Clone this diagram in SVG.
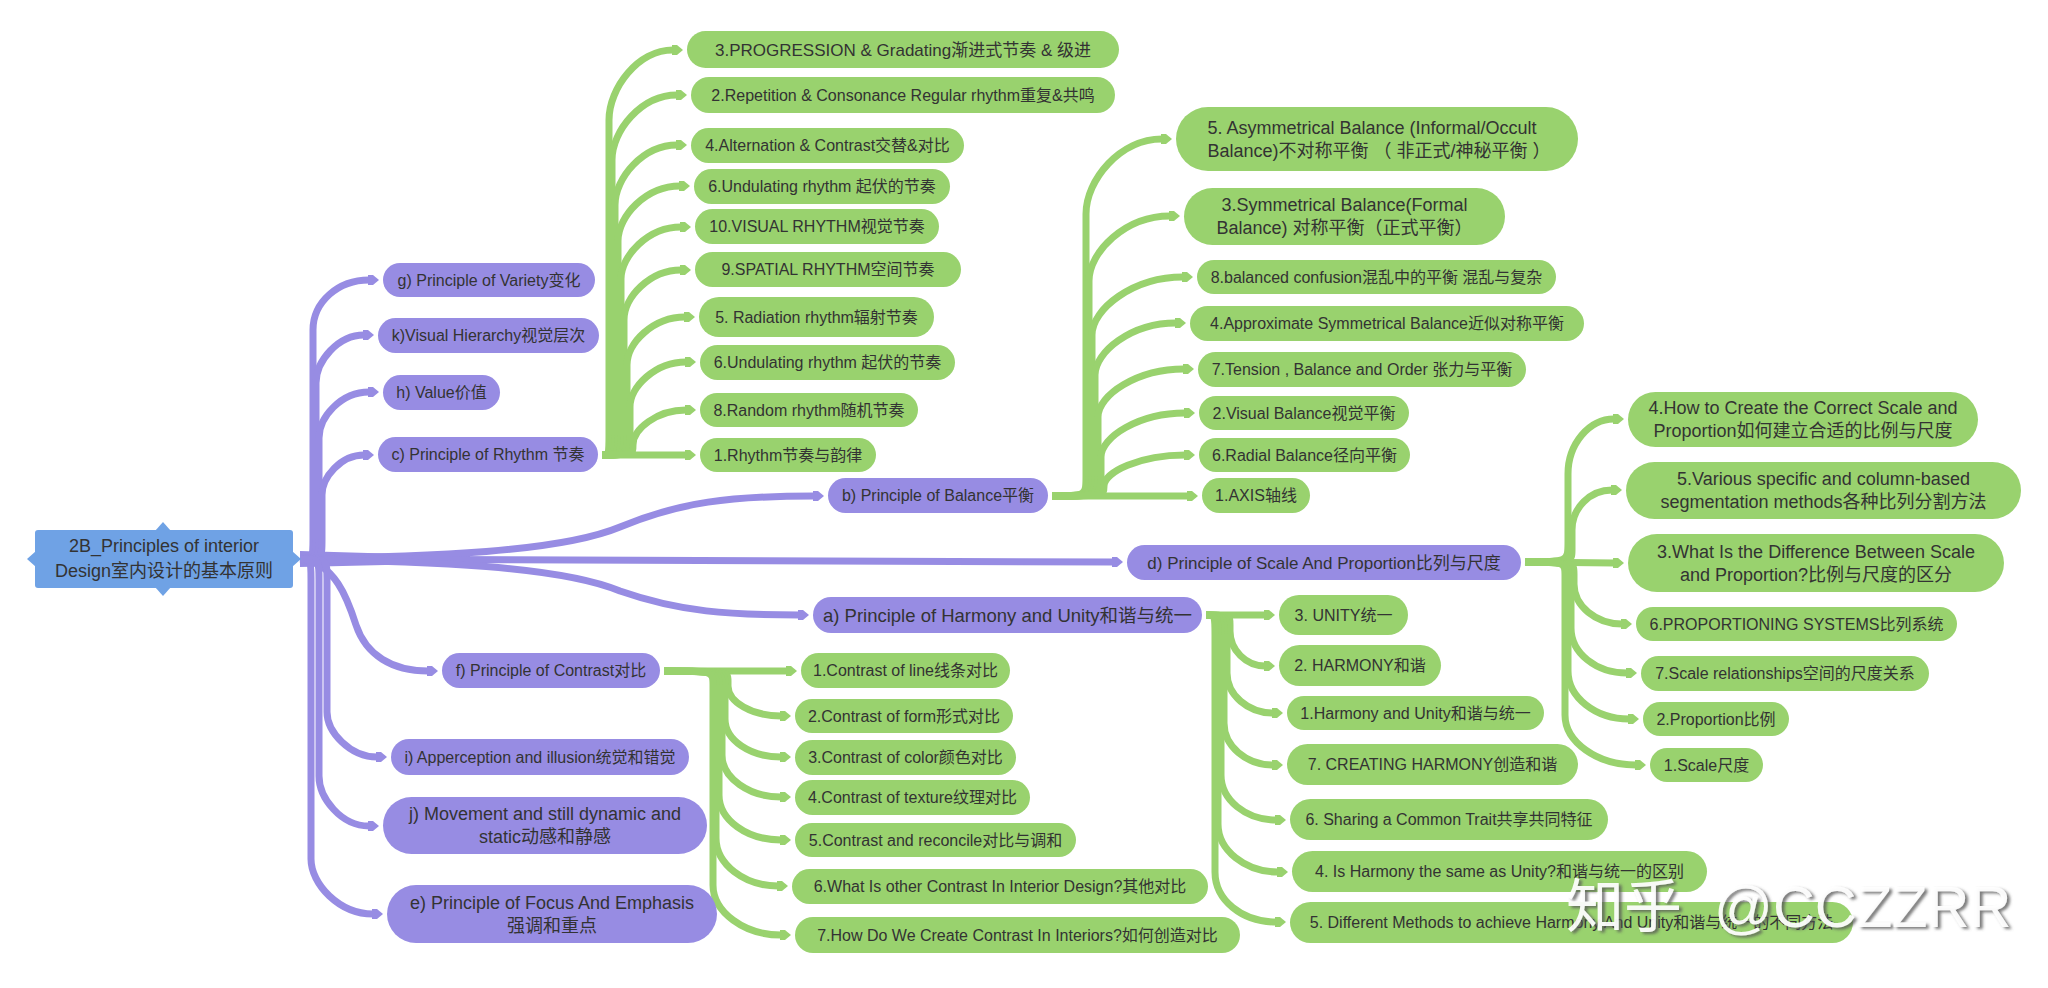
<svg xmlns="http://www.w3.org/2000/svg" width="2048" height="988" viewBox="0 0 2048 988">
<defs>
<style>
.bg{fill:#ffffff}
.p{fill:#978ce3}
.g{fill:#99d26e}
.r{fill:#6fa2e5}
.t{font-family:"Liberation Sans","Noto Sans CJK SC",sans-serif;font-size:16px;fill:#333333;text-anchor:middle}
.t18{font-size:18px}
.cp{fill:none;stroke:#978ce3;stroke-width:7;marker-end:url(#mp)}
.cg{fill:none;stroke:#99d26e;stroke-width:7;marker-end:url(#mg)}
.wm{font-family:"Liberation Sans","Noto Sans CJK SC",sans-serif;font-size:58px;fill:#ffffff;fill-opacity:0.92;filter:url(#ws)}
</style>
<marker id="mp" viewBox="0 0 12 12" refX="1" refY="6" markerWidth="12" markerHeight="12" markerUnits="userSpaceOnUse" orient="auto"><path d="M0,1 L5,1 L11,6 L5,11 L0,11 Z" fill="#978ce3"/></marker>
<marker id="mg" viewBox="0 0 12 12" refX="1" refY="6" markerWidth="12" markerHeight="12" markerUnits="userSpaceOnUse" orient="auto"><path d="M0,1 L5,1 L11,6 L5,11 L0,11 Z" fill="#99d26e"/></marker>
<filter id="ws" x="-10%" y="-20%" width="120%" height="150%"><feDropShadow dx="3" dy="2" stdDeviation="1.5" flood-color="#555555" flood-opacity="0.85"/></filter>
</defs>
<rect class="bg" x="0" y="0" width="2048" height="988"/>

<g id="connectors">
<!-- root purple -->
<path d="M300,551 L470,556 L470,563 L300,567 Z" fill="#978ce3"/>
<path class="cp" d="M300,559 C313,559 313,559 313,539 L313,330 C313,302 338,280 369,280"/>
<path class="cp" d="M300,559 C316,559 316,559 316,539 L316,383 C316,361 338,335 364,335"/>
<path class="cp" d="M300,559 C319,559 319,559 319,539 L319,438 C319,417 341,392 369,392"/>
<path class="cp" d="M300,559 C322,559 322,559 322,539 L322,495 C322,477 341,455 364,455"/>
<path class="cp" d="M300,558 C430,557 560,552 620,527 C680,502 730,496 814,496"/>
<path class="cp" d="M300,559 L1113,562"/>
<path class="cp" d="M300,560 C430,561 560,566 620,591 C680,612 730,615 799,615"/>
<path class="cp" d="M300,559 C335,562 348,600 356,625 C366,655 392,671 428,671"/>
<path class="cp" d="M300,559 C327,559 327,559 327,579 L327,712 C327,732 350,757 377,757"/>
<path class="cp" d="M300,559 C319,559 319,559 319,579 L319,776 C319,798 341,826 369,826"/>
<path class="cp" d="M300,559 C311,559 311,559 311,579 L311,859 C311,884 339,914 373,914"/>
<!-- rhythm -->
<path class="cg" d="M602,455 C609,455 609,455 609,435 L609,120 C609,88 638,50 673,50"/>
<path class="cg" d="M602,455 C612,455 612,455 612,435 L612,160 C612,131 641,95 677,95"/>
<path class="cg" d="M602,455 C615,455 615,455 615,435 L615,205 C615,178 643,145 677,145"/>
<path class="cg" d="M602,455 C618,455 618,455 618,435 L618,241 C618,216 646,186 680,186"/>
<path class="cg" d="M602,455 C621,455 621,455 621,435 L621,279 C621,256 648,227 681,227"/>
<path class="cg" d="M602,455 C624,455 624,455 624,435 L624,320 C624,297 650,270 681,270"/>
<path class="cg" d="M602,455 C627,455 627,455 627,435 L627,365 C627,343 653,317 685,317"/>
<path class="cg" d="M602,455 C630,455 630,455 630,435 L630,407 C630,387 655,362 686,362"/>
<path class="cg" d="M602,455 C633,455 633,455 633,445 C633,429 657,410 686,410"/>
<path class="cg" d="M602,455 L686,455"/>
<!-- balance -->
<path class="cg" d="M1052,496 C1086,496 1086,496 1086,476 L1086,214 C1086,180 1120,139 1162,139"/>
<path class="cg" d="M1052,496 C1089,496 1089,496 1089,476 L1089,281 C1089,252 1125,216 1170,216"/>
<path class="cg" d="M1052,496 C1092,496 1092,496 1092,476 L1092,335 C1092,309 1133,277 1183,277"/>
<path class="cg" d="M1052,496 C1095,496 1095,496 1095,476 L1095,375 C1095,352 1131,323 1176,323"/>
<path class="cg" d="M1052,496 C1098,496 1098,496 1098,476 L1098,417 C1098,395 1137,369 1184,369"/>
<path class="cg" d="M1052,496 C1101,496 1101,496 1101,476 L1101,457 C1101,437 1139,413 1185,413"/>
<path class="cg" d="M1052,496 C1104,496 1104,496 1104,486 C1104,472 1140,455 1185,455"/>
<path class="cg" d="M1052,496 L1188,496"/>
<!-- scale -->
<path class="cg" d="M1525,562 C1568,562 1568,562 1568,542 L1568,474 C1568,444 1589,419 1614,419"/>
<path class="cg" d="M1525,562 C1572,562 1572,562 1572,550 L1572,530 C1572,508 1590,490 1612,490"/>
<path class="cg" d="M1525,562 L1614,563"/>
<path class="cg" d="M1525,562 C1574,562 1574,562 1574,574 L1574,584 C1574,606 1596,624 1622,624"/>
<path class="cg" d="M1525,562 C1571,562 1571,562 1571,576 L1571,628 C1571,653 1596,673 1627,673"/>
<path class="cg" d="M1525,562 C1568,562 1568,562 1568,576 L1568,671 C1568,697 1595,719 1629,719"/>
<path class="cg" d="M1525,562 C1565,562 1565,562 1565,576 L1565,715 C1565,742 1597,765 1636,765"/>
<!-- harmony -->
<path class="cg" d="M1206,615 L1265,615"/>
<path class="cg" d="M1206,615 C1230,615 1230,615 1230,625 L1230,631 C1230,650 1246,666 1265,666"/>
<path class="cg" d="M1206,615 C1227,615 1227,615 1227,635 L1227,673 C1227,695 1248,713 1273,713"/>
<path class="cg" d="M1206,615 C1224,615 1224,615 1224,635 L1224,723 C1224,746 1246,765 1273,765"/>
<path class="cg" d="M1206,615 C1221,615 1221,615 1221,635 L1221,775 C1221,800 1246,820 1276,820"/>
<path class="cg" d="M1206,615 C1218,615 1218,615 1218,635 L1218,824 C1218,850 1245,872 1278,872"/>
<path class="cg" d="M1206,615 C1215,615 1215,615 1215,635 L1215,872 C1215,900 1242,922 1276,922"/>
<!-- contrast -->
<path class="cg" d="M664,671 L787,671"/>
<path class="cg" d="M664,671 C728,671 728,671 728,681 L728,686 C728,702 752,716 781,716"/>
<path class="cg" d="M664,671 C725,671 725,671 725,685 L725,719 C725,740 750,757 781,757"/>
<path class="cg" d="M664,671 C722,671 722,671 722,685 L722,755 C722,778 749,797 781,797"/>
<path class="cg" d="M664,671 C719,671 719,671 719,685 L719,795 C719,820 747,840 781,840"/>
<path class="cg" d="M664,671 C716,671 716,671 716,685 L716,838 C716,864 744,886 778,886"/>
<path class="cg" d="M664,671 C713,671 713,671 713,685 L713,885 C713,912 744,935 781,935"/>
</g>

<g id="root">
<polygon class="r" points="155,531 163,522 171,531"/>
<polygon class="r" points="155,587 163,596 171,587"/>
<polygon class="r" points="36,551 27,559 36,567"/>
<polygon class="r" points="292,551 301,559 292,567"/>
<rect class="r" x="35" y="530" width="258" height="58" rx="3"/>
<text class="t t18" x="164" y="552">2B_Principles of interior</text>
<text class="t t18" x="164" y="577">Design室内设计的基本原则</text>
</g>

<g id="n-g"><rect class="p" x="383" y="263" width="212" height="34" rx="17"/><text class="t" x="489" y="285.5">g) Principle of Variety变化</text></g>
<g id="n-k"><rect class="p" x="378" y="318" width="221" height="35" rx="17.5"/><text class="t" x="488.5" y="341">k)Visual Hierarchy视觉层次</text></g>
<g id="n-h"><rect class="p" x="383" y="375" width="117" height="35" rx="17.5"/><text class="t" x="441.5" y="398">h) Value价值</text></g>
<g id="n-c"><rect class="p" x="378" y="437" width="220" height="35" rx="17.5"/><text class="t" x="488" y="460">c) Principle of Rhythm 节奏</text></g>
<g id="n-b"><rect class="p" x="828" y="478" width="220" height="35" rx="17.5"/><text class="t" x="938" y="501">b) Principle of Balance平衡</text></g>
<g id="n-d"><rect class="p" x="1127" y="545" width="394" height="35" rx="17.5"/><text class="t" x="1324" y="568.5" style="font-size:17px">d) Principle of Scale And Proportion比列与尺度</text></g>
<g id="n-a"><rect class="p" x="813" y="597" width="389" height="36" rx="18"/><text class="t" x="1007.5" y="621.5" style="font-size:18.5px">a) Principle of Harmony and Unity和谐与统一</text></g>
<g id="n-f"><rect class="p" x="442" y="653" width="218" height="35" rx="17.5"/><text class="t" x="551" y="676">f) Principle of Contrast对比</text></g>
<g id="n-i"><rect class="p" x="391" y="739" width="298" height="36" rx="18"/><text class="t" x="540" y="762.5">i) Apperception and illusion统觉和错觉</text></g>
<g id="n-j"><rect class="p" x="383" y="797" width="324" height="57" rx="28.5"/><text class="t t18" x="545" y="820">j) Movement and still dynamic and</text><text class="t t18" x="545" y="843">static动感和静感</text></g>
<g id="n-e"><rect class="p" x="387" y="885" width="330" height="58" rx="29"/><text class="t t18" x="552" y="908.5">e) Principle of Focus And Emphasis</text><text class="t t18" x="552" y="931.5">强调和重点</text></g>

<g id="r3"><rect class="g" x="687" y="31" width="432" height="37" rx="18.5"/><text class="t" x="903" y="55.5" style="font-size:17px">3.PROGRESSION &amp; Gradating渐进式节奏 &amp; 级进</text></g>
<g id="r2"><rect class="g" x="691" y="77" width="424" height="36" rx="18"/><text class="t" x="903" y="100.5">2.Repetition &amp; Consonance Regular rhythm重复&amp;共鸣</text></g>
<g id="r4"><rect class="g" x="691" y="128" width="273" height="35" rx="17.5"/><text class="t" x="827.5" y="151">4.Alternation &amp; Contrast交替&amp;对比</text></g>
<g id="r6"><rect class="g" x="694" y="169" width="256" height="35" rx="17.5"/><text class="t" x="822" y="192">6.Undulating rhythm 起伏的节奏</text></g>
<g id="r10"><rect class="g" x="695" y="209" width="244" height="35" rx="17.5"/><text class="t" x="817" y="232">10.VISUAL RHYTHM视觉节奏</text></g>
<g id="r9"><rect class="g" x="695" y="252" width="266" height="35" rx="17.5"/><text class="t" x="828" y="275">9.SPATIAL RHYTHM空间节奏</text></g>
<g id="r5"><rect class="g" x="699" y="297" width="235" height="40" rx="20"/><text class="t" x="816.5" y="322.5">5. Radiation rhythm辐射节奏</text></g>
<g id="r6b"><rect class="g" x="700" y="345" width="255" height="35" rx="17.5"/><text class="t" x="827.5" y="368">6.Undulating rhythm 起伏的节奏</text></g>
<g id="r8"><rect class="g" x="700" y="393" width="218" height="34" rx="17"/><text class="t" x="809" y="415.5">8.Random rhythm随机节奏</text></g>
<g id="r1"><rect class="g" x="700" y="438" width="176" height="34" rx="17"/><text class="t" x="788" y="460.5">1.Rhythm节奏与韵律</text></g>

<g id="b5"><rect class="g" x="1176" y="107" width="402" height="64" rx="32"/><text class="t t18" x="1372" y="133.5">5. Asymmetrical Balance (Informal/Occult</text><text class="t t18" x="1379" y="156.5">Balance)不对称平衡 （ 非正式/神秘平衡 ）</text></g>
<g id="b3"><rect class="g" x="1184" y="188" width="321" height="57" rx="28.5"/><text class="t t18" x="1344.5" y="211">3.Symmetrical Balance(Formal</text><text class="t t18" x="1344.5" y="234">Balance) 对称平衡（正式平衡）</text></g>
<g id="b8"><rect class="g" x="1197" y="260" width="359" height="34" rx="17"/><text class="t" x="1376.5" y="282.5">8.balanced confusion混乱中的平衡 混乱与复杂</text></g>
<g id="b4"><rect class="g" x="1190" y="306" width="394" height="35" rx="17.5"/><text class="t" x="1387" y="329">4.Approximate Symmetrical Balance近似对称平衡</text></g>
<g id="b7"><rect class="g" x="1198" y="352" width="328" height="35" rx="17.5"/><text class="t" x="1362" y="375">7.Tension , Balance and Order 张力与平衡</text></g>
<g id="b2"><rect class="g" x="1199" y="396" width="210" height="34" rx="17"/><text class="t" x="1304" y="418.5">2.Visual Balance视觉平衡</text></g>
<g id="b6"><rect class="g" x="1199" y="438" width="211" height="34" rx="17"/><text class="t" x="1304.5" y="460.5">6.Radial Balance径向平衡</text></g>
<g id="b1"><rect class="g" x="1202" y="478" width="108" height="35" rx="17.5"/><text class="t" x="1256" y="501">1.AXIS轴线</text></g>

<g id="s4"><rect class="g" x="1628" y="392" width="350" height="55" rx="27.5"/><text class="t t18" x="1803" y="414">4.How to Create the Correct Scale and</text><text class="t t18" x="1803" y="437">Proportion如何建立合适的比例与尺度</text></g>
<g id="s5"><rect class="g" x="1626" y="462" width="395" height="57" rx="28.5"/><text class="t t18" x="1823.5" y="485">5.Various specific and column-based</text><text class="t t18" x="1823.5" y="508">segmentation methods各种比列分割方法</text></g>
<g id="s3"><rect class="g" x="1628" y="534" width="376" height="58" rx="29"/><text class="t t18" x="1816" y="557.5">3.What Is the Difference Between Scale</text><text class="t t18" x="1816" y="580.5">and Proportion?比例与尺度的区分</text></g>
<g id="s6"><rect class="g" x="1636" y="607" width="321" height="34" rx="17"/><text class="t" x="1796.5" y="629.5">6.PROPORTIONING SYSTEMS比列系统</text></g>
<g id="s7"><rect class="g" x="1641" y="656" width="288" height="35" rx="17.5"/><text class="t" x="1785" y="679">7.Scale relationships空间的尺度关系</text></g>
<g id="s2"><rect class="g" x="1643" y="702" width="146" height="34" rx="17"/><text class="t" x="1716" y="724.5">2.Proportion比例</text></g>
<g id="s1"><rect class="g" x="1650" y="748" width="113" height="34" rx="17"/><text class="t" x="1706.5" y="770.5">1.Scale尺度</text></g>

<g id="h3"><rect class="g" x="1279" y="595" width="129" height="40" rx="20"/><text class="t" x="1343.5" y="620.5">3. UNITY统一</text></g>
<g id="h2"><rect class="g" x="1279" y="645" width="162" height="41" rx="20.5"/><text class="t" x="1360" y="671">2. HARMONY和谐</text></g>
<g id="h1"><rect class="g" x="1287" y="696" width="257" height="34" rx="17"/><text class="t" x="1415.5" y="718.5">1.Harmony and Unity和谐与统一</text></g>
<g id="h7"><rect class="g" x="1287" y="744" width="291" height="41" rx="20.5"/><text class="t" x="1432.5" y="770">7. CREATING HARMONY创造和谐</text></g>
<g id="h6"><rect class="g" x="1290" y="799" width="318" height="41" rx="20.5"/><text class="t" x="1449" y="825">6. Sharing a Common Trait共享共同特征</text></g>
<g id="h4"><rect class="g" x="1292" y="851" width="415" height="41" rx="20.5"/><text class="t" x="1499.5" y="877">4. Is Harmony the same as Unity?和谐与统一的区别</text></g>
<g id="h5"><rect class="g" x="1290" y="902" width="563" height="41" rx="20.5"/><text class="t" x="1571.5" y="928">5. Different Methods to achieve Harmony And Unity和谐与统一的不同方法</text></g>

<g id="c1"><rect class="g" x="801" y="653" width="209" height="35" rx="17.5"/><text class="t" x="905.5" y="676">1.Contrast of line线条对比</text></g>
<g id="c2"><rect class="g" x="795" y="699" width="218" height="34" rx="17"/><text class="t" x="904" y="721.5">2.Contrast of form形式对比</text></g>
<g id="c3"><rect class="g" x="795" y="740" width="221" height="35" rx="17.5"/><text class="t" x="905.5" y="763">3.Contrast of color颜色对比</text></g>
<g id="c4"><rect class="g" x="795" y="780" width="235" height="35" rx="17.5"/><text class="t" x="912.5" y="803">4.Contrast of texture纹理对比</text></g>
<g id="c5"><rect class="g" x="795" y="823" width="281" height="34" rx="17"/><text class="t" x="935.5" y="845.5">5.Contrast and reconcile对比与调和</text></g>
<g id="c6"><rect class="g" x="792" y="869" width="416" height="35" rx="17.5"/><text class="t" x="1000" y="892">6.What Is other Contrast In Interior Design?其他对比</text></g>
<g id="c7"><rect class="g" x="795" y="917" width="445" height="36" rx="18"/><text class="t" x="1017.5" y="940.5">7.How Do We Create Contrast In Interiors?如何创造对比</text></g>

<g id="watermark"><text class="wm" x="1566" y="927">知乎 <tspan x="1714">@CCZZRR</tspan></text></g>
</svg>
